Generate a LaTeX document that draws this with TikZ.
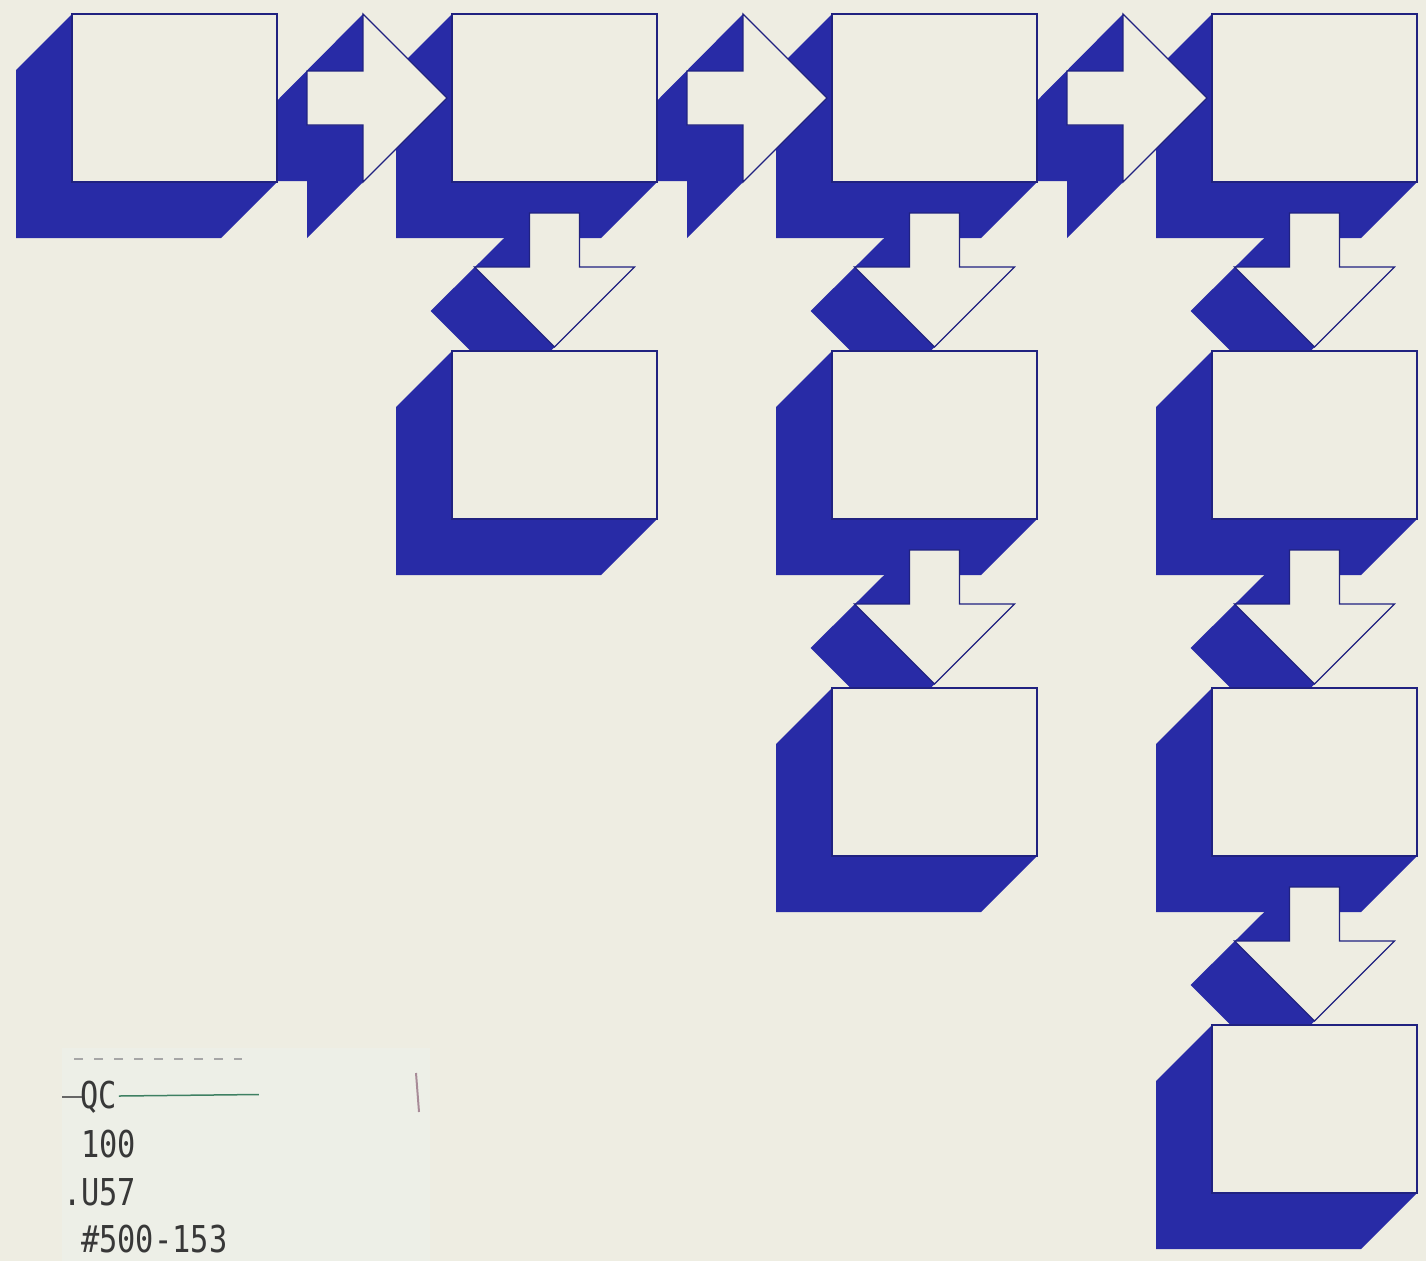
\documentclass[tikz,border=0pt]{standalone}
\usepackage{fontspec}
\newfontfamily\tagfont[FakeStretch=0.82]{DejaVu Sans Mono}
\usepackage{xcolor}
\usetikzlibrary{calc}
\definecolor{paper}{RGB}{238,237,226}
\definecolor{card}{RGB}{237,239,231}
\definecolor{ink}{RGB}{40,43,166}
\definecolor{rim}{RGB}{32,34,128}
\definecolor{tagline}{RGB}{62,128,98}
\definecolor{smudge}{RGB}{168,140,152}
\pgfdeclarelayer{back}
\pgfsetlayers{back,main}

\begin{document}
\begin{tikzpicture}[x=1pt, y=1pt,
    box/.style={draw=rim, line width=1.6pt, fill=paper, minimum width=205pt, minimum height=168pt, inner sep=0pt, outer sep=0pt},
    face/.style={draw=rim, line width=1.2pt, fill=paper},
    shade/.style={fill=ink},
    tag/.style={font=\tagfont\fontsize{37}{44}\selectfont, text=black!78, anchor=base west, inner sep=0pt},
    goright/.pic={
      \begin{pgfonlayer}{back}
        \fill[shade] (86,0) -- (170,-84) -- (30,-224) -- (30,-167) -- (-26,-167) -- (-26,-113) -- cycle;
      \end{pgfonlayer}
      \draw[face] (30,-57) -- (86,-57) -- (86,0) -- (170,-84) -- (86,-168) -- (86,-111) -- (30,-111) -- cycle;
    },
    godown/.pic={
      \begin{pgfonlayer}{back}
        \fill[shade] (-25,-31) -- (25,-31) -- (25,-85) -- (80,-85) -- (0,-165) -- (-44,-209) -- (-124,-129) -- cycle;
      \end{pgfonlayer}
      \draw[face] (-25,-31) -- (25,-31) -- (25,-85) -- (80,-85) -- (0,-165) -- (-80,-85) -- (-25,-85) -- cycle;
    }
]
\begin{pgfonlayer}{back}
  \fill[paper] (0,0) rectangle (1426,-1261);
\end{pgfonlayer}
\useasboundingbox (0,0) rectangle (1426,-1261);

% boxes, column/row
\foreach \c/\r in {1/1,2/1,3/1,4/1,2/2,3/2,4/2,3/3,4/3,4/4}
  \node[box] (b\c\r) at ({174.5+380*(\c-1)}, {-98-337*(\r-1)}) {};

\begin{pgfonlayer}{back}
\foreach \n in {b11,b21,b31,b41,b22,b32,b42,b33,b43,b44}
  \fill[shade] (\n.north west) -- (\n.north east) -- (\n.south east) -- ++(-56,-56)
    -- ($(\n.south west)+(-56,-56)$) -- ($(\n.north west)+(-56,-56)$) -- cycle;
\end{pgfonlayer}

\foreach \n in {b11,b21,b31}
  \pic at (\n.north east) {goright};
\foreach \n in {b21,b31,b41,b32,b42,b43}
  \pic at (\n.south) {godown};

% library label
\fill[card] (62,-1048) rectangle (430,-1261);
\node[tag] (qc) at (80,-1108) {QC};
\node[tag] (num) at (81,-1157) {100};
\node[tag] (cut) at (63,-1205) {.U57};
\node[tag] (ser) at (81,-1252) {\#500-153};
\draw[black!60, line width=1.3pt] ($(qc.base west)+(-18,11)$) -- ($(qc.base west)+(2,11)$);
\draw[tagline, line width=1.5pt] ($(qc.base east)+(2,12)$) -- ++(140,1.5);
\draw[black!35, line width=1.6pt, dash pattern=on 9pt off 11pt] ($(qc.base west)+(-6,49)$) -- ++(168,0);
\draw[smudge, line width=2pt] (416,-1073) -- (419,-1112);
\end{tikzpicture}
\end{document}
